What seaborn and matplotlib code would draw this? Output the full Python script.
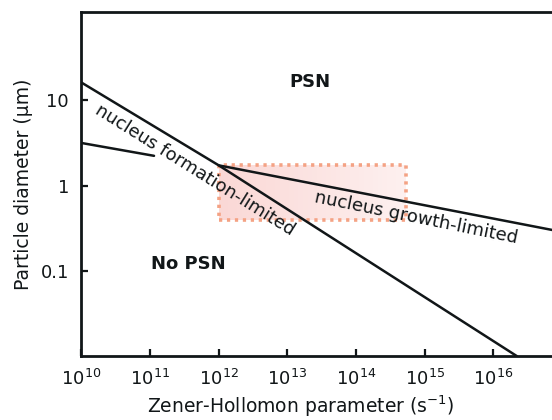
import numpy as np
import pandas as pd
import matplotlib
matplotlib.use("Agg")
import matplotlib.pyplot as plt
import seaborn as sns
from matplotlib.patches import Rectangle

# Boundary lines (Z in s^-1, particle diameter in um)
formation_z = [1e10, 1e12, 2.2e16]
formation_d = [16.2, 1.74, 0.0102]

growth_low_z = [1e10, 1.14e11]
growth_low_d = [3.18, 2.25]

growth_z = [1e12, 1e17]
growth_d = [1.74, 0.29]

# processing window box
box_z = [1e12, 5.3e14]
box_d = [0.40, 1.77]

x_ticks = [1e10, 1e11, 1e12, 1e13, 1e14, 1e15, 1e16]
y_ticks = [0.1, 1, 10]

sns.set_style("ticks")
plt.rcParams["font.family"] = ["DejaVu Sans"]
ink = "#111618"

fig = plt.figure(figsize=(5.52, 4.2), dpi=100)
ax = fig.add_axes([0.1476, 0.1524, 0.8705, 0.818])

# shaded box, fading to the right
n_strips = 40
lz0, lz1 = np.log10(box_z)
edges = np.logspace(lz0, lz1, n_strips + 1)
for i in range(n_strips):
    a = 0.55 - 0.35 * i / n_strips
    ax.add_patch(Rectangle((edges[i], box_d[0]), edges[i + 1] - edges[i], box_d[1] - box_d[0],
                           facecolor="#f7b8b4", alpha=a, edgecolor="none", zorder=1))
ax.add_patch(Rectangle((box_z[0], box_d[0]), box_z[1] - box_z[0], box_d[1] - box_d[0],
                       facecolor="none", edgecolor="#f4a284", lw=2.6, ls=(0, (0.9, 1.3)), zorder=2))

for z, d in [(formation_z, formation_d), (growth_low_z, growth_low_d), (growth_z, growth_d)]:
    sns.lineplot(x=z, y=d, ax=ax, color=ink, lw=1.8, zorder=3)

ax.set_xscale("log")
ax.set_yscale("log")
ax.set_xlim(1e10, 1e17)
ax.set_ylim(10 ** -1.99, 10 ** 2.03)
ax.set_xticks(x_ticks)
ax.set_yticks(y_ticks)
ax.set_yticklabels(["0.1", "1", "10"])
ax.minorticks_off()
ax.tick_params(direction="in", length=5, width=1.6, labelsize=13, color=ink, labelcolor=ink, pad=9)
for s in ax.spines.values():
    s.set_linewidth(2)
    s.set_color(ink)

ax.set_xlabel("Zener-Hollomon parameter (s$^{-1}$)", fontsize=13.5, color=ink)
ax.set_ylabel("Particle diameter (\u00b5m)", fontsize=13.5, color=ink)
ax.xaxis.set_label_coords(0.455, -0.108)
ax.yaxis.set_label_coords(-0.1, 0.5)

ax.text(10 ** 13.33, 10 ** 1.22, "PSN", fontsize=13, fontweight="bold", ha="center", va="center", color=ink)
ax.text(10 ** 11.55, 10 ** -0.91, "No PSN", fontsize=13, fontweight="bold", ha="center", va="center", color=ink)
ax.text(10 ** 11.65, 10 ** 0.18, "nucleus formation-limited", fontsize=13, rotation=-32,
        ha="center", va="center", rotation_mode="anchor", zorder=4, color=ink)
ax.text(10 ** 14.87, 10 ** -0.37, "nucleus growth-limited", fontsize=13, rotation=-11.5,
        ha="center", va="center", rotation_mode="anchor", zorder=4, color=ink)

fig.savefig("out.png", dpi=100)
